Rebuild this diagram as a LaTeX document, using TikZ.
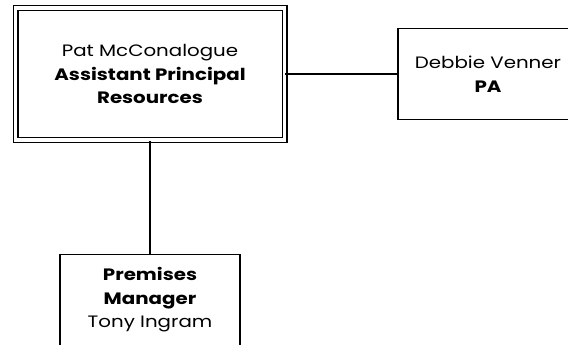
\documentclass[tikz,border=0pt]{standalone}
\usepackage{fontspec}
\setmainfont{Poppins}[FakeStretch=1.2]
\usetikzlibrary{positioning}

\begin{document}
\begin{tikzpicture}[x=1pt,y=-1pt,every node/.style={draw,rectangle,line width=1.3pt,align=center,font=\fontsize{16.5}{23.5}\selectfont},
	postbox/.style={minimum width=180pt,minimum height=91pt},
	headbox/.style={double,double distance=3.4pt,minimum width=269pt,minimum height=132pt},
	link/.style={line width=1.3pt}]
	
	\useasboundingbox (0,0) rectangle (568,345);
	\clip (0,0) rectangle (568,345);
	
	\node[headbox] (ap) at (150,74) {Pat McConalogue\\\textbf{Assistant Principal}\\\textbf{Resources}};
	\node[postbox] (pa) at (488,74) {Debbie Venner\\\textbf{PA}};
	\node[postbox] (pm) at (150,300) {\textbf{Premises}\\\textbf{Manager}\\Tony Ingram};
	
	\draw[link] (ap) -- (pa);
	\draw[link] (ap) -- (pm);
\end{tikzpicture}
\end{document}
